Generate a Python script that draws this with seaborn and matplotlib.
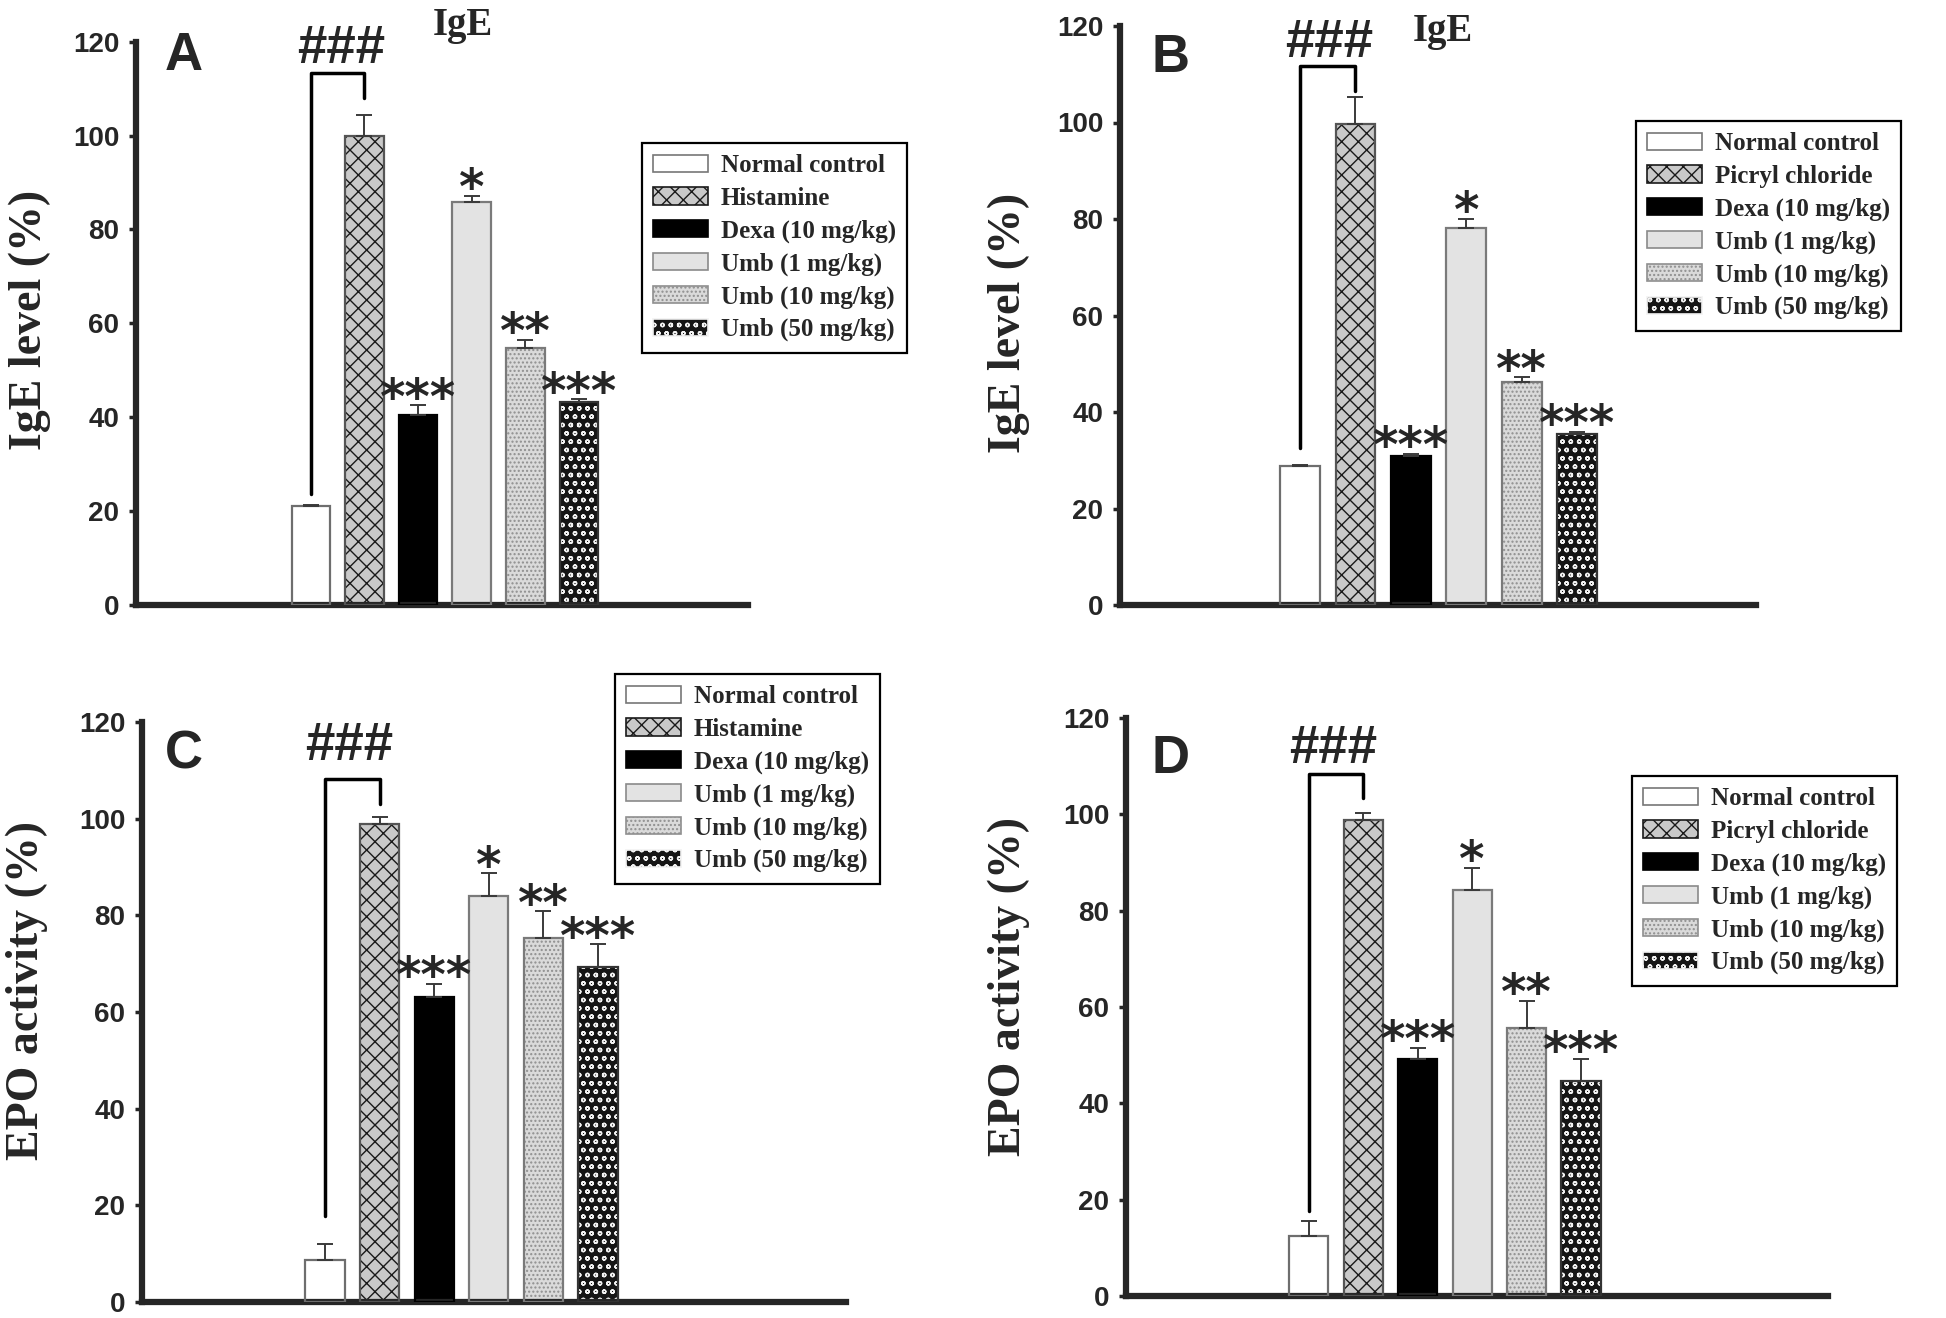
import numpy as np
import seaborn as sns
import matplotlib.pyplot as plt
from matplotlib.patches import Patch

# --- data ---
groups_hist = ['Normal control', 'Histamine', 'Dexa (10 mg/kg)',
               'Umb (1 mg/kg)', 'Umb (10 mg/kg)', 'Umb (50 mg/kg)']
groups_picryl = ['Normal control', 'Picryl chloride', 'Dexa (10 mg/kg)',
                 'Umb (1 mg/kg)', 'Umb (10 mg/kg)', 'Umb (50 mg/kg)']

ige_hist = [21.0, 100.0, 40.5, 85.8, 54.7, 43.2]
ige_hist_err = [0.3, 4.3, 2.0, 1.4, 1.8, 0.6]
ige_picryl = [28.8, 99.6, 30.9, 78.2, 46.2, 35.5]
ige_picryl_err = [0.3, 5.6, 0.4, 1.8, 1.0, 0.4]
epo_hist = [8.7, 99.0, 63.2, 84.1, 75.3, 69.4]
epo_hist_err = [3.3, 1.3, 2.6, 4.6, 5.5, 4.6]
epo_picryl = [12.4, 98.8, 49.2, 84.2, 55.7, 44.6]
epo_picryl_err = [3.2, 1.4, 2.3, 4.7, 5.6, 4.6]

stars = ['', '', '***', '*', '**', '***']
y_ticks = [0, 20, 40, 60, 80, 100, 120]

# bar styles (face, hatch, hatch colour, outline)
faces = ['white', '#c9c9c9', 'black', '#e3e3e3', '#dadada', '#151515']
hatches = [None, 'xx', None, None, '....', 'oo']
hatch_cols = ['#777777', '#1a1a1a', 'black', '#8a8a8a', '#8f8f8f', '#f2f2f2']
outlines = ['#6e6e6e', '#555555', 'black', '#7a7a7a', '#7a7a7a', '#333333']

plt.rcParams['hatch.linewidth'] = 1.0
sns.set_style('ticks')
plt.rcParams['font.family'] = ['Liberation Sans', 'DejaVu Sans']
plt.rcParams['font.weight'] = 'bold'

W, H = 1946, 1318
fig = plt.figure(figsize=(W / 100, H / 100), dpi=100)

# panel layout in pixels / data units
panels = [
    dict(name='A', labels=groups_hist, vals=ige_hist, errs=ige_hist_err, ylabel='IgE level (%)',
         box=(136, 41.7, 748, 605), xlim=(-3.26, 8.15), title=True, title_xy=(2.84, 121.4),
         letter_xy=(-2.72, 113.9), hash_xy=(0.56, 115.4), bracket=(23.6, 113.3, 108.1),
         ylab_xy=(30, 320), leg_xy=(642, 143)),
    dict(name='B', labels=groups_picryl, vals=ige_picryl, errs=ige_picryl_err, ylabel='IgE level (%)',
         box=(1120, 26, 1756, 605), xlim=(-3.25, 8.23), title=True, title_xy=(2.58, 116.9),
         letter_xy=(-2.69, 110.5), hash_xy=(0.52, 113.5), bracket=(32.5, 111.8, 106.6),
         ylab_xy=(1009, 323), leg_xy=(1636, 121)),
    dict(name='C', labels=groups_hist, vals=epo_hist, errs=epo_hist_err, ylabel='EPO activity (%)',
         box=(142, 722, 846, 1302), xlim=(-3.35, 9.54), title=False, title_xy=None,
         letter_xy=(-2.93, 110.4), hash_xy=(0.44, 112.2), bracket=(17.7, 108.3, 103.0),
         ylab_xy=(27, 991), leg_xy=(615, 674)),
    dict(name='D', labels=groups_picryl, vals=epo_picryl, errs=epo_picryl_err, ylabel='EPO activity (%)',
         box=(1126, 718, 1828, 1296), xlim=(-3.36, 9.54), title=False, title_xy=None,
         letter_xy=(-2.9, 108.5), hash_xy=(0.44, 110.7), bracket=(17.6, 108.3, 103.3),
         ylab_xy=(1009, 986), leg_xy=(1632, 776)),
]

for p in panels:
    x0, y0, x1, y1 = p['box']
    ax = fig.add_axes([x0 / W, 1 - y1 / H, (x1 - x0) / W, (y1 - y0) / H])
    pos = np.arange(len(p['vals']))

    sns.barplot(x=p['labels'], y=p['vals'], order=p['labels'], width=0.72, color='white',
                saturation=1, errorbar=None, ax=ax, zorder=2)
    for patch, fc, h, hc in zip(ax.patches, faces, hatches, hatch_cols):
        patch.set_facecolor(fc)
        patch.set_edgecolor(hc)
        patch.set_hatch(h)
        patch.set_linewidth(0)
    ax.bar(pos, p['vals'], width=0.72, fill=False, edgecolor=outlines, linewidth=1.6, zorder=3)
    ax.errorbar(pos, p['vals'], yerr=[np.zeros(len(pos)), p['errs']], fmt='none', ecolor='#3a3a3a',
                elinewidth=1.4, capsize=6, capthick=1.4, zorder=4)

    for i, s in enumerate(stars):
        if s:
            ax.annotate(s, (pos[i], p['vals'][i] + p['errs'][i]), xytext=(0, -6),
                        textcoords='offset points', ha='center', va='baseline',
                        fontsize=35, fontweight='bold', family='DejaVu Sans', zorder=5)

    # significance bracket between normal control and inducer
    b0, btop, b1 = p['bracket']
    ax.plot([0, 0, 1, 1], [b0, btop, btop, b1], color='black', lw=2.5, clip_on=False, zorder=5)
    ax.text(p['hash_xy'][0], p['hash_xy'][1], '###', ha='center', va='baseline',
            fontsize=38, fontweight='bold', clip_on=False)
    ax.text(p['letter_xy'][0], p['letter_xy'][1], p['name'], ha='left', va='baseline',
            fontsize=38, fontweight='bold')
    if p['title']:
        ax.text(p['title_xy'][0], p['title_xy'][1], 'IgE', ha='center', va='baseline',
                fontsize=28, fontweight='bold', family='Liberation Serif', clip_on=False)

    ax.set_xlim(*p['xlim'])
    ax.set_ylim(0, 120)
    ax.set_yticks(y_ticks)
    ax.set_xticks([])
    ax.set_xlabel('')
    ax.set_ylabel('')
    sns.despine(ax=ax)
    ax.spines['left'].set_linewidth(4.5)
    ax.spines['bottom'].set_linewidth(4.5)
    ax.tick_params(axis='y', direction='out', length=5, width=2.5, pad=7, labelsize=20)
    for t in ax.get_yticklabels():
        t.set_fontweight('bold')

    fig.text(p['ylab_xy'][0] / W, 1 - p['ylab_xy'][1] / H, p['ylabel'], rotation=90,
             ha='center', va='center', fontsize=33, fontweight='bold', family='Liberation Serif')

    handles = [Patch(facecolor=fc, edgecolor=hc, hatch=h, linewidth=1.2)
               for fc, h, hc in zip(faces, hatches, hatch_cols)]
    leg = ax.legend(handles, p['labels'], loc='upper left',
                    bbox_to_anchor=(p['leg_xy'][0] / W, 1 - p['leg_xy'][1] / H),
                    bbox_transform=fig.transFigure, borderaxespad=0,
                    prop=dict(family='Liberation Serif', weight='bold', size=18),
                    handlelength=2.2, handleheight=0.7, handletextpad=0.5, labelspacing=0.38,
                    borderpad=0.45, fancybox=False, framealpha=1, edgecolor='black')
    leg.get_frame().set_linewidth(1.6)

fig.savefig('out.png', dpi=100, facecolor='white')
